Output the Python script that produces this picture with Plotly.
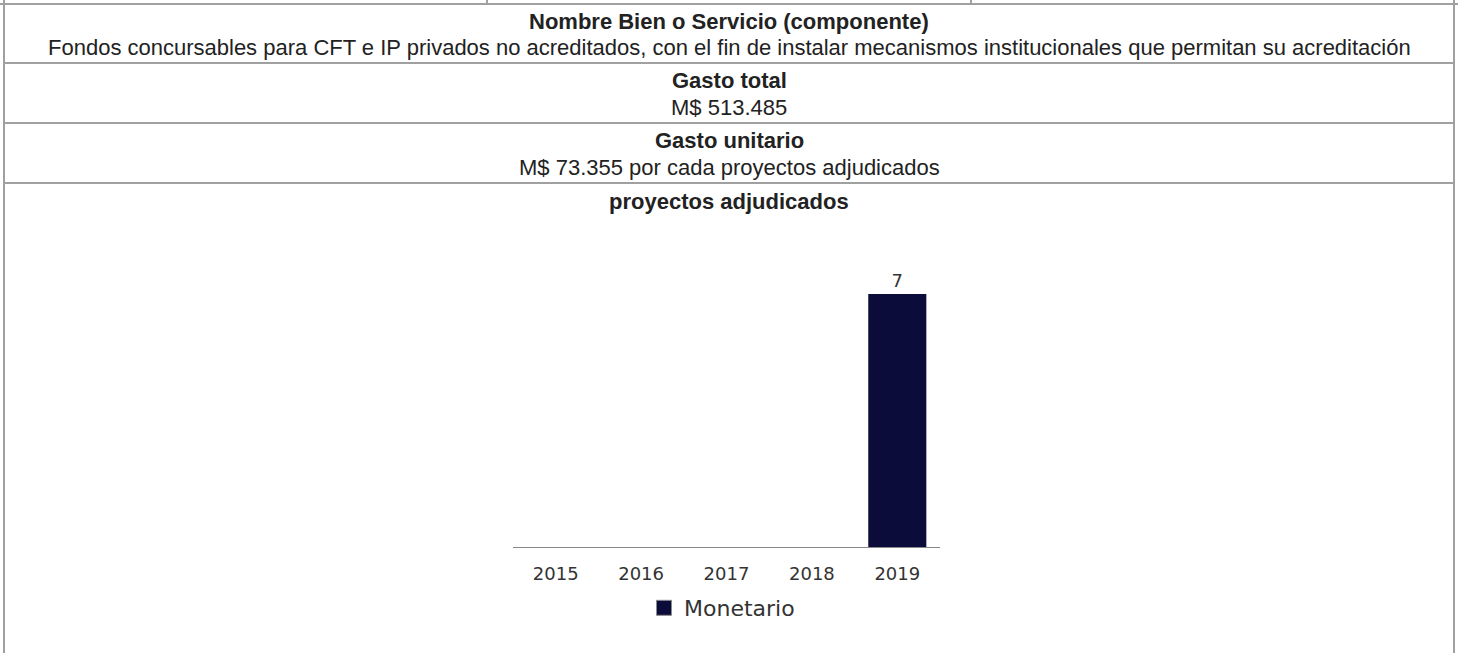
import plotly.graph_objects as go

# datos
years = ['2015', '2016', '2017', '2018', '2019']
proyectos = [0, 0, 0, 0, 7]
serie = 'Monetario'

titulo_componente = 'Nombre Bien o Servicio (componente)'
nombre_componente = ('Fondos concursables para CFT e IP privados no acreditados, '
                     'con el fin de instalar mecanismos institucionales que permitan su acreditación')
titulo_gasto_total = 'Gasto total'
gasto_total = 'M$ 513.485'
titulo_gasto_unitario = 'Gasto unitario'
gasto_unitario = 'M$ 73.355 por cada proyectos adjudicados'
titulo_grafico = 'proyectos adjudicados'

W, H = 1458, 653
BORDER = '#a0a0a0'
TEXT = '#222222'
CHART_TEXT = '#333333'
BAR_COLOR = '#0c0c3a'


def px_x(x):
    return x / W


def px_y(y):
    return 1 - y / H


fig = go.Figure()

fig.add_trace(go.Bar(
    x=years,
    y=proyectos,
    name=serie,
    marker=dict(color=BAR_COLOR, line=dict(width=0)),
    width=0.68,
    text=[str(v) if v else '' for v in proyectos],
    textposition='outside',
    textfont=dict(family='DejaVu Sans', size=18, color=CHART_TEXT),
    cliponaxis=False,
    showlegend=False,
    legendgroup=serie,
))

# entrada de leyenda con el cuadrado más grande (como en la imagen)
fig.add_trace(go.Scatter(
    x=[None], y=[None],
    mode='markers',
    name=serie,
    legendgroup=serie,
    marker=dict(symbol='square', size=15, color=BAR_COLOR,
                line=dict(color='#8a8a8a', width=1)),
    showlegend=True,
))

# bordes de la tabla
lines = [
    (0, 4, W, 4),
    (487, 0, 487, 4),
    (971, 0, 971, 4),
    (4, 0, 4, H),
    (1454, 0, 1454, H),
    (4, 63, 1454, 63),
    (4, 123, 1454, 123),
    (4, 183, 1454, 183),
]
for x0, y0, x1, y1 in lines:
    fig.add_shape(type='line', xref='paper', yref='paper',
                  x0=px_x(x0), y0=px_y(y0), x1=px_x(x1), y1=px_y(y1),
                  line=dict(color=BORDER, width=2))

# textos de las celdas
textos = [
    (titulo_componente, 21, True),
    (nombre_componente, 47, False),
    (titulo_gasto_total, 81, True),
    (gasto_total, 107, False),
    (titulo_gasto_unitario, 141, True),
    (gasto_unitario, 167, False),
    (titulo_grafico, 201, True),
]
for txt, y, bold in textos:
    fig.add_annotation(
        text=f'<b>{txt}</b>' if bold else txt,
        xref='paper', yref='paper', x=px_x(729), y=px_y(y),
        xanchor='center', yanchor='middle', showarrow=False,
        font=dict(family='Liberation Sans, Arial', size=22, color=TEXT),
    )

fig.update_layout(
    width=W, height=H,
    margin=dict(l=0, r=0, t=0, b=0),
    paper_bgcolor='white',
    plot_bgcolor='white',
    xaxis=dict(
        domain=[px_x(513), px_x(940)],
        showline=True, linecolor='#888888', linewidth=1,
        showgrid=False, ticks='', zeroline=False,
        ticklabelstandoff=10,
        tickfont=dict(family='DejaVu Sans', size=18, color=CHART_TEXT),
        fixedrange=True,
    ),
    yaxis=dict(
        domain=[px_y(547), px_y(294)],
        range=[0, 7],
        visible=False, showgrid=False, zeroline=False,
        fixedrange=True,
    ),
    legend=dict(
        orientation='h',
        x=px_x(644), xanchor='left',
        y=px_y(608), yanchor='middle',
        font=dict(family='DejaVu Sans', size=22, color=CHART_TEXT),
        bgcolor='rgba(0,0,0,0)',
    ),
    showlegend=True,
)

fig.write_html('out.html', config={'displayModeBar': False},
               post_script="document.body.style.margin='0';")
